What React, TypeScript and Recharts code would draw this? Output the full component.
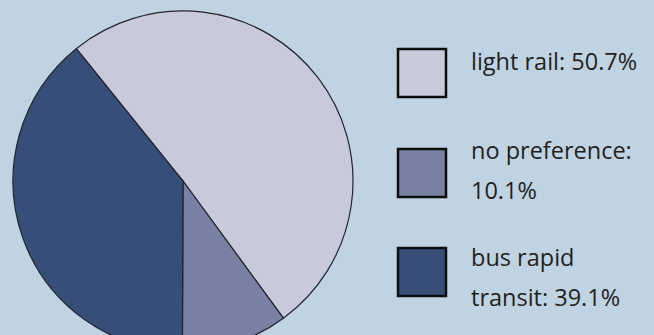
import React from "react";
import { PieChart, Pie, Cell } from "recharts";

const categories = ["light rail", "no preference", "bus rapid transit"];
const shares = [50.7, 10.1, 39.1];
const colors = ["#c8c9da", "#7881a3", "#374f78"];
// legend text lines per category
const legendLines = [["light rail: 50.7%"], ["no preference:", "10.1%"], ["bus rapid", "transit: 39.1%"]];

const pieData = categories.map((name, i) => ({ name, value: shares[i] }));

const legendBoxTop = [48, 148, 247];
const legendTextBaseline = [70, 159, 266];

export default function App() {
  return (
    <div
      style={{
        position: "absolute",
        left: 0,
        top: 0,
        width: 654,
        height: 335,
        background: "#c0d3e3",
        overflow: "hidden",
      }}
    >
      <PieChart width={654} height={335} margin={{ top: 0, right: 0, bottom: 0, left: 0 }}>
        <Pie
          data={pieData}
          dataKey="value"
          nameKey="name"
          cx={183}
          cy={181}
          outerRadius={170}
          startAngle={128.9}
          endAngle={-231.1}
          stroke="#23232b"
          strokeWidth={1.2}
          isAnimationActive={false}
        >
          {pieData.map((d, i) => (
            <Cell key={d.name} fill={colors[i]} />
          ))}
        </Pie>
      </PieChart>
      <svg
        width={654}
        height={335}
        style={{ position: "absolute", left: 0, top: 0, pointerEvents: "none" }}
      >
        {categories.map((c, i) => (
          <g key={c}>
            <rect
              x={398}
              y={legendBoxTop[i] + 1}
              width={48}
              height={48}
              fill={colors[i]}
              stroke="#0d0d0d"
              strokeWidth={2.5}
            />
            {legendLines[i].map((line, j) => (
              <text
                key={j}
                x={471}
                y={legendTextBaseline[i] + j * 40}
                fontFamily="'Open Sans', sans-serif"
                fontSize={23.5}
                fill="#231f20"
              >
                {line}
              </text>
            ))}
          </g>
        ))}
      </svg>
    </div>
  );
}
